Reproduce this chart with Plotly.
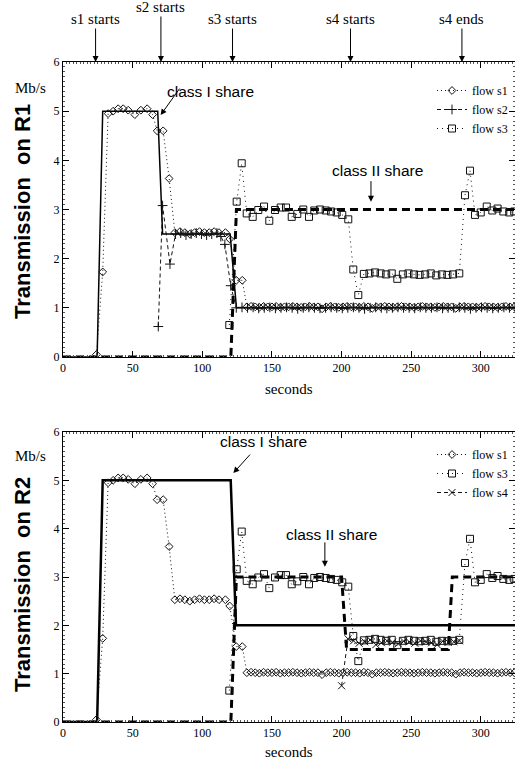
import plotly.graph_objects as go

# ---------------- data ----------------
s1_t = [24, 28.5, 32.4, 36, 39.6, 43.2, 46.8, 51.6, 55.9, 60.4,
        64.3, 67.6, 71.9, 76.2, 80.3, 84, 87.5, 91, 94.5, 98,
        101.5, 105, 108.5, 112, 116.6, 119.7, 124.4, 128.7, 132, 135,
        138, 141, 144, 147, 150, 153, 156, 159, 162, 165,
        168, 171, 174, 177, 180, 183, 186, 189, 192, 195,
        198, 201, 204, 207, 210, 213, 216, 219, 222, 225,
        228, 231, 234, 237, 240, 243, 246, 249, 252, 255,
        258, 261, 264, 267, 270, 273, 276, 279, 282, 285,
        288, 291, 294, 297, 300, 303, 306, 309, 312, 315,
        318, 321, 324]
s1_v = [0.05, 1.73, 4.95, 5.0, 5.05, 5.05, 5.02, 4.93, 5.02, 5.05,
        4.93, 4.6, 4.6, 3.63, 2.53, 2.55, 2.53, 2.5, 2.53, 2.55,
        2.53, 2.53, 2.55, 2.53, 2.53, 2.4, 1.56, 1.56, 1.02, 1.03,
        1.02, 1.01, 1.03, 1.02, 1.02, 1.03, 1.01, 1.02, 1.02, 1.03,
        1.02, 1.01, 1.02, 1.03, 1.02, 1.02, 0.98, 1.02, 1.03, 1.02,
        1.01, 1.02, 1.03, 1.02, 1.02, 1.01, 1.03, 1.02, 0.99, 1.02,
        1.02, 1.03, 1.02, 1.01, 1.02, 1.03, 1.02, 1.02, 1.01, 1.02,
        1.03, 1.02, 1.02, 1.01, 1.02, 1.03, 1.02, 1.02, 0.99, 1.02,
        1.03, 1.02, 1.02, 1.01, 1.02, 1.03, 1.02, 1.02, 1.01, 1.02,
        1.03, 1.02, 1.02]

s2_t = [68.4, 71.5, 76.8, 80.8, 84.5, 88.3, 92, 95.7, 99.4, 103.1,
        106.8, 110.5, 113.3, 116.2, 120.4, 124.4, 128.5, 132.5, 136.5, 140.5,
        144.5, 148.5, 152.5, 156.5, 160.5, 164.5, 168.5, 172.5, 176.5, 180.5,
        184.5, 188.5, 192.5, 196.5, 200.5, 204.5, 208.5, 212.5, 216.5, 220.5,
        224.5, 228.5, 232.5, 236.5, 240.5, 244.5, 248.5, 252.5, 256.5, 260.5,
        264.5, 268.5, 272.5, 276.5, 280.5, 284.5, 288.5, 292.5, 296.5, 300.5,
        304.5, 308.5, 312.5, 316.5, 320.5, 324.5]
s2_v = [0.62, 3.08, 1.89, 2.5, 2.52, 2.48, 2.5, 2.52, 2.5, 2.48,
        2.5, 2.52, 2.45, 2.29, 1.45, 1.0, 1.01, 1.0, 1.01, 0.99,
        1.0, 1.01, 0.99, 1.0, 1.01, 1.0, 0.98, 1.0, 1.01, 1.0,
        0.99, 1.0, 1.01, 1.0, 0.99, 1.0, 1.01, 1.0, 0.98, 1.0,
        1.01, 1.0, 0.99, 1.0, 1.01, 1.0, 1.0, 0.99, 1.01, 1.0,
        1.0, 1.01, 0.99, 1.0, 1.0, 1.01, 1.0, 0.98, 1.0, 1.01,
        1.0, 0.99, 1.0, 1.01, 1.0, 1.0]

s3_t = [119.4, 124.7, 128.3, 131.9, 136.2, 140.2, 144.3, 148.1, 152.2, 156.3,
        160.1, 164.2, 168.2, 172.5, 176.6, 180.4, 184.5, 188.6, 192.4, 196.5,
        200.5, 204.8, 208.4, 212, 216, 220, 224, 228, 232, 236,
        240, 244, 248, 252, 256, 260, 264, 268, 272, 276,
        280, 284.5, 288.6, 292.2, 295.8, 299.9, 304.2, 308.2, 312, 316.1,
        320.4, 324]
s3_v = [0.65, 3.16, 3.94, 2.92, 2.85, 2.99, 3.06, 2.77, 2.99, 3.04,
        3.04, 2.85, 2.91, 3.0, 2.85, 2.98, 3.0, 2.98, 2.96, 2.94,
        2.89, 2.8, 1.78, 1.26, 1.69, 1.7, 1.72, 1.7, 1.68, 1.7,
        1.59, 1.68, 1.7, 1.68, 1.67, 1.68, 1.7, 1.66, 1.68, 1.67,
        1.68, 1.7, 3.29, 3.79, 2.89, 2.94, 3.06, 2.98, 3.02, 2.96,
        2.94, 2.96]

s4_t = [200, 204.6, 208.6, 212.6, 216.6, 220.6, 224.6, 228.6, 232.6, 236.6,
        240.6, 244.6, 248.6, 252.6, 256.6, 260.6, 264.6, 268.6, 272.6, 276.6,
        280.6, 284.6]
s4_v = [0.75, 1.72, 1.68, 1.63, 1.66, 1.7, 1.6, 1.64, 1.68, 1.65,
        1.62, 1.67, 1.66, 1.63, 1.68, 1.66, 1.64, 1.6, 1.67, 1.65,
        1.66, 1.68]

r1_class1_t = [0, 24.5, 28.5, 68, 71.5, 120, 124.5, 324.5]
r1_class1_v = [0, 0, 5, 5, 2.5, 2.5, 1, 1]
r1_class2_t = [0, 120.5, 124.5, 324.5]
r1_class2_v = [0, 0, 3, 3]
r2_class1_t = [0, 24.5, 28.5, 120.4, 124.2, 324.5]
r2_class1_v = [0, 0, 5, 5, 2, 2]
r2_class2_t = [0, 120.5, 124.5, 200, 203.6, 276.6, 279.5, 324.5]
r2_class2_v = [0, 0, 3, 3, 1.5, 1.5, 3, 3]

events = ["s1 starts", "s2 starts", "s3 starts", "s4 starts", "s4 ends"]
event_t = [23.4, 70.3, 121.7, 206.4, 286.4]

x_ticks = [0, 50, 100, 150, 200, 250, 300]
y_ticks = [0, 1, 2, 3, 4, 5, 6]

# ---------------- figure ----------------
W, H = 515, 762
L = 63
fig = go.Figure()

SERIF = "Liberation Serif"
SANS = "Liberation Sans"
INK = "#111111"


def add_flow(t, v, name, symbol, dash, xa, ya, legend, size=6):
    fig.add_trace(go.Scatter(
        x=t, y=v, mode="lines+markers", name=name,
        xaxis=xa, yaxis=ya, legend=legend,
        line=dict(color=INK, width=1, dash=dash),
        marker=dict(symbol=symbol, size=size, color=INK,
                    line=dict(color=INK, width=1)),
    ))


def add_share(t, v, width, dash, xa, ya):
    fig.add_trace(go.Scatter(
        x=t, y=v, mode="lines", showlegend=False, hoverinfo="skip",
        xaxis=xa, yaxis=ya,
        line=dict(color="black", width=width, dash=dash),
    ))


# top panel (R1)
add_share(r1_class1_t, r1_class1_v, 1.5, "solid", "x", "y")
add_share(r1_class2_t, r1_class2_v, 3, "8px,5px", "x", "y")
add_flow(s1_t, s1_v, "flow s1", "diamond-open", "1px,3px", "x", "y", "legend", 6)
add_flow(s2_t, s2_v, "flow s2", "cross-thin", "4px,3px", "x", "y", "legend", 7)
add_flow(s3_t, s3_v, "flow s3", "square-open", "1px,4px", "x", "y", "legend", 7)

# bottom panel (R2)
add_share(r2_class1_t, r2_class1_v, 2.5, "solid", "x2", "y2")
add_share(r2_class2_t, r2_class2_v, 3, "8px,5px", "x2", "y2")
add_flow(s1_t, s1_v, "flow s1", "diamond-open", "1px,3px", "x2", "y2", "legend2", 6)
add_flow(s3_t, s3_v, "flow s3", "square-open", "1px,4px", "x2", "y2", "legend2", 7)
add_flow(s4_t, s4_v, "flow s4", "x-thin", "4px,3px", "x2", "y2", "legend2", 7)


def py2paper(py):
    return 1 - py / H


def px2paper(px):
    return (px - L) / (W - L)


axis_common = dict(
    showline=True, linecolor="black", linewidth=1, mirror="ticks",
    ticks="inside", ticklen=6, tickcolor="black", tickwidth=1,
    showgrid=False, zeroline=False, automargin=False,
    tickfont=dict(family=SERIF, size=12, color="black"),
)

xcommon = dict(axis_common, range=[0, 324.5], tickvals=x_ticks,
               minor=dict(ticks="inside", ticklen=2, dtick=2.5,
                          tickcolor="#555", showgrid=False))
ycommon = dict(axis_common, range=[0, 6], tickvals=y_ticks,
               minor=dict(ticks="inside", ticklen=2, dtick=0.1,
                          tickcolor="#555", showgrid=False))

fig.update_layout(
    width=W, height=H,
    margin=dict(l=L, r=0, t=0, b=0, pad=0),
    paper_bgcolor="white", plot_bgcolor="white",
    xaxis=dict(xcommon, domain=[0, 1], anchor="y"),
    yaxis=dict(ycommon, domain=[py2paper(357), py2paper(62)], anchor="x"),
    xaxis2=dict(xcommon, domain=[0, 1], anchor="y2"),
    yaxis2=dict(ycommon, domain=[py2paper(722), py2paper(432)], anchor="x2"),
    legend=dict(x=px2paper(432), xanchor="left", y=py2paper(76), yanchor="top",
                bgcolor="rgba(0,0,0,0)", font=dict(family=SERIF, size=12, color="black"),
                itemwidth=30, tracegroupgap=0),
    legend2=dict(x=px2paper(432), xanchor="left", y=py2paper(440), yanchor="top",
                 bgcolor="rgba(0,0,0,0)", font=dict(family=SERIF, size=12, color="black"),
                 itemwidth=30, tracegroupgap=0),
    showlegend=True,
)

ann = []
# event arrows above top panel
for i, (txt, t) in enumerate(zip(events, event_t)):
    ann.append(dict(x=t, y=6, xref="x", yref="y", text=txt, showarrow=True,
                    ax=0, ay=-55 if i == 1 else -43, arrowhead=2, arrowsize=1.2,
                    arrowwidth=1, arrowcolor="black",
                    font=dict(family=SERIF, size=15, color="black")))

# share labels
share_labels = [
    ("class I share", "x", "y", 106.2, 5.41, 70.1, 4.92, 20, -28),
    ("class II share", "x", "y", 225.8, 3.80, 221.1, 3.16, 0, -22),
    ("class I share", "x2", "y2", 143.9, 5.80, 122.3, 5.15, 18, -20),
    ("class II share", "x2", "y2", 192.4, 3.87, 188.0, 3.21, 0, -26),
]
for txt, xr, yr, tx, ty, hx, hy, ax, ay in share_labels:
    ann.append(dict(x=tx, y=ty, xref=xr, yref=yr, text=txt, showarrow=False,
                    xanchor="center", yanchor="middle",
                    font=dict(family=SANS, size=15.5, color="black")))
    ann.append(dict(x=hx, y=hy, xref=xr, yref=yr, text="", showarrow=True,
                    ax=ax, ay=ay, arrowhead=2, arrowsize=1.2, arrowwidth=1,
                    arrowcolor="black"))

# axis titles
for ytitle, ymb, yname, ysec in [(212, 88, "Transmission  on R1", 389),
                                  (585, 456, "Transmission  on R2", 752)]:
    ann.append(dict(x=px2paper(22), y=py2paper(ytitle), xref="paper", yref="paper",
                    xanchor="center", yanchor="middle",
                    text="<b>%s</b>" % yname, textangle=-90, showarrow=False,
                    font=dict(family=SANS, size=22, color="black")))
    ann.append(dict(x=px2paper(30), y=py2paper(ymb), xref="paper", yref="paper",
                    xanchor="center", yanchor="middle",
                    text="Mb/s", showarrow=False,
                    font=dict(family=SERIF, size=15, color="black")))
    ann.append(dict(x=0.5, y=py2paper(ysec), xref="paper", yref="paper",
                    xanchor="center", yanchor="middle",
                    text="seconds", showarrow=False,
                    font=dict(family=SERIF, size=15, color="black")))

fig.update_layout(annotations=ann)
fig.write_html("out.html", config={"displayModeBar": False},
               post_script="document.body.style.margin='0px';")
